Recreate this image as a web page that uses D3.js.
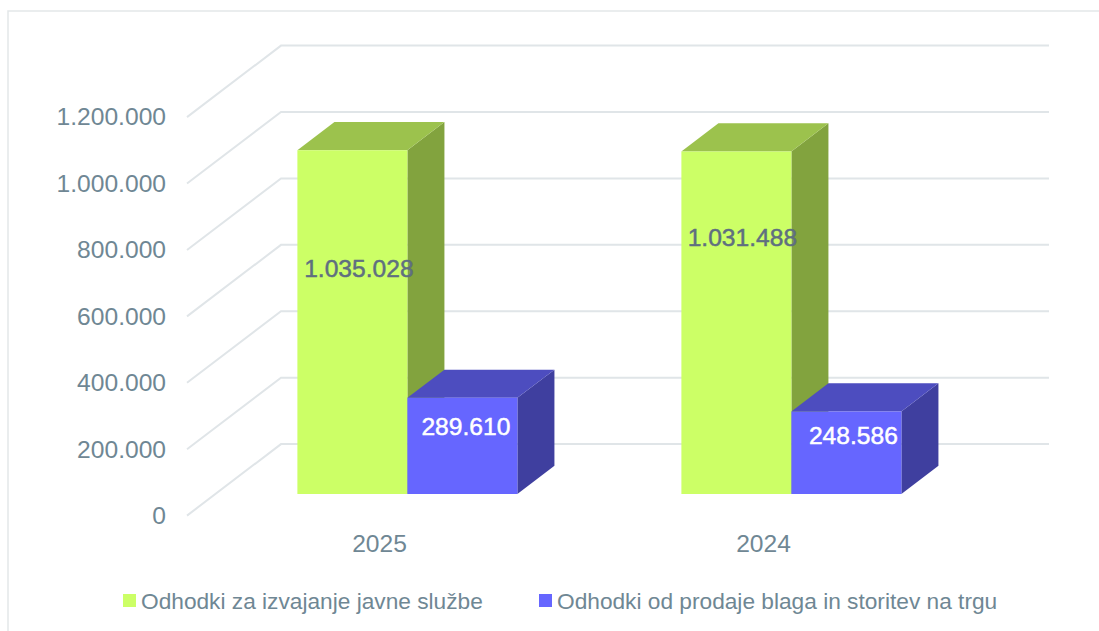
<!DOCTYPE html>
<html lang="en">
<head>
    <meta charset="UTF-8">
    <title>Odhodki</title>
    <script src="https://d3js.org/d3.v7.min.js"></script>
    <style>
        html, body { margin: 0; padding: 0; background: #fff; overflow: hidden; }
        svg { display: block; font-family: "Liberation Sans", sans-serif; }
        .tick-label { font-size: 24.6px; fill: #6f8794; }
        .legend-label { font-size: 22.7px; fill: #6f8794; }
        .value-label { font-size: 24.6px; text-anchor: middle; dominant-baseline: central; stroke-width: 0.5; }
    </style>
</head>
<body>
    <svg id="chart" width="1099" height="631"></svg>
    <script>
        const categories = ["2025", "2024"];
        const seriesNames = ["Odhodki za izvajanje javne službe", "Odhodki od prodaje blaga in storitev na trgu"];
        const greenValues = [1035028, 1031488];
        const blueValues = [289610, 248586];
        const yTicks = [0, 200000, 400000, 600000, 800000, 1000000, 1200000];

        const faces = [
            { front: "#ccff66", top: "#9cc24d", side: "#82a33e", label: "#5f6f80" },
            { front: "#6666ff", top: "#4d4dbf", side: "#3f3f9f", label: "#ffffff" }
        ];
        // the labels were moved by hand in the original, offsets from the bar face centre
        const labelNudge = {
            "2025-0": [6.5, -54], "2024-0": [6, -85],
            "2025-1": [3.5, -19], "2024-1": [7, -17]
        };

        const svg = d3.select("#chart");
        const locale = d3.formatLocale({ decimal: ",", thousands: ".", grouping: [3], currency: ["", ""] });
        const fmt = locale.format(",d");

        // front plane of the 3d box, depth vector goes up and right from it
        const depthX = 94, depthY = -71.5;
        const x = d3.scaleBand().domain(categories).range([187, 955]);
        const y = d3.scaleLinear().domain([0, 1200000]).range([515.6, 117.1]);
        const series = d3.scaleBand().domain([0, 1]).range([0, 220]);
        const barStart = 82;
        const depthNear = 0.302, depthFar = 0.696;

        const pt = (px, v, d) => [px + depthX * d, y(v) + depthY * d];
        const poly = pts => pts.map(p => p.join(",")).join(" ");

        // outer frame, only left and top sides are visible
        svg.append("path")
            .attr("d", "M8,631V11H1099")
            .attr("fill", "none")
            .attr("stroke", "#e3e7e9")
            .attr("stroke-width", 1.5);

        // gridlines: slanted on the side wall, flat on the back wall
        const grid = svg.append("g");
        grid.selectAll("polyline")
            .data(yTicks)
            .join("polyline")
            .attr("points", d => poly([pt(x.range()[0], d, 0), pt(x.range()[0], d, 1), pt(x.range()[1], d, 1)]))
            .attr("fill", "none")
            .attr("stroke", "#e0e5e8")
            .attr("stroke-width", 2);

        // axes
        const yAxis = d3.axisLeft(y).tickValues(yTicks).tickFormat(fmt).tickSize(0).tickPadding(21);
        const yG = svg.append("g").attr("transform", "translate(187,0)").call(yAxis);
        yG.select(".domain").remove();
        yG.selectAll("text").attr("class", "tick-label").attr("font-family", null).attr("font-size", null).attr("fill", null);

        const xAxis = d3.axisBottom(x).tickSize(0).tickPadding(0);
        const xG = svg.append("g").attr("transform", "translate(0.5,535)").call(xAxis);
        xG.select(".domain").remove();
        xG.selectAll("text").attr("class", "tick-label").attr("font-family", null).attr("font-size", null).attr("fill", null);

        // bars
        const allSeries = [greenValues, blueValues];
        const bars = [];
        categories.forEach((c, ci) => {
            allSeries.forEach((vals, si) => {
                bars.push({ c, si, v: vals[ci], color: faces[si] });
            });
        });

        const barG = svg.append("g").selectAll("g").data(bars).join("g");
        const edges = d => {
            const x0 = x(d.c) + barStart + series(d.si);
            return [x0, x0 + series.bandwidth()];
        };
        barG.append("polygon")
            .attr("fill", d => d.color.side)
            .attr("points", d => {
                const [, x1] = edges(d);
                return poly([pt(x1, 0, depthNear), pt(x1, 0, depthFar), pt(x1, d.v, depthFar), pt(x1, d.v, depthNear)]);
            });
        barG.append("polygon")
            .attr("fill", d => d.color.top)
            .attr("points", d => {
                const [x0, x1] = edges(d);
                return poly([pt(x0, d.v, depthNear), pt(x1, d.v, depthNear), pt(x1, d.v, depthFar), pt(x0, d.v, depthFar)]);
            });
        barG.append("polygon")
            .attr("fill", d => d.color.front)
            .attr("points", d => {
                const [x0, x1] = edges(d);
                return poly([pt(x0, 0, depthNear), pt(x1, 0, depthNear), pt(x1, d.v, depthNear), pt(x0, d.v, depthNear)]);
            });

        // value labels
        svg.append("g").selectAll("text")
            .data(bars)
            .join("text")
            .attr("class", "value-label")
            .attr("x", d => {
                const [x0, x1] = edges(d);
                return pt((x0 + x1) / 2, d.v, depthNear)[0] + labelNudge[d.c + "-" + d.si][0];
            })
            .attr("y", d => (pt(0, d.v, depthNear)[1] + pt(0, 0, depthNear)[1]) / 2 + labelNudge[d.c + "-" + d.si][1])
            .attr("fill", d => d.color.label)
            .attr("stroke", d => d.color.label)
            .text(d => fmt(d.v));

        // legend
        const legendX = [123, 539];
        const legend = svg.append("g").selectAll("g").data(seriesNames).join("g")
            .attr("transform", (d, i) => `translate(${legendX[i]},594)`);
        legend.append("rect")
            .attr("width", 13).attr("height", 13)
            .attr("fill", (d, i) => faces[i].front);
        legend.append("text")
            .attr("class", "legend-label")
            .attr("x", 18).attr("y", 6.5)
            .attr("dominant-baseline", "central")
            .text(d => d);
    </script>
</body>
</html>
